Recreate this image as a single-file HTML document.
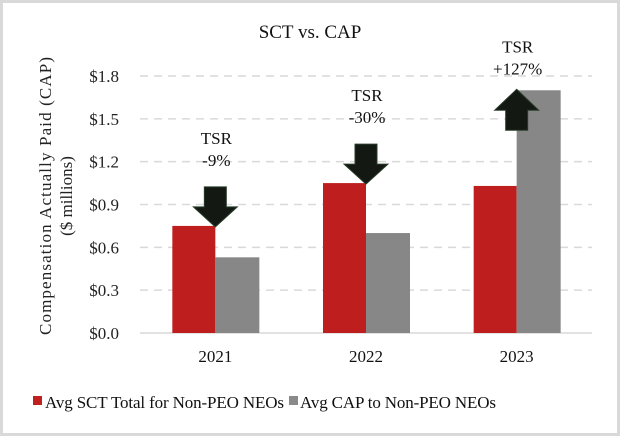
<!DOCTYPE html>
<html><head><meta charset="utf-8"><style>
html,body{margin:0;padding:0;background:#fff}
svg{display:block;font-family:"Liberation Serif","Times New Roman",serif}
</style></head><body>
<svg width="620" height="436" viewBox="0 0 620 436">
<rect x="1.5" y="1.5" width="617" height="433" fill="#fff" stroke="#d9d9d9" stroke-width="3"/>
<text x="310" y="38" text-anchor="middle" font-size="19" fill="#111">SCT vs. CAP</text>
<g id="grid"></g>
<g id="yticks"></g>
<g id="bars"></g>
<g id="xlabels"></g>
<g id="ann"></g>
<text transform="translate(51,196) rotate(-90)" text-anchor="middle" font-size="17" fill="#222" textLength="278">Compensation Actually Paid (CAP)</text>
<text transform="translate(72,196) rotate(-90)" text-anchor="middle" font-size="17" fill="#222">($ millions)</text>
<g>
<rect x="33" y="396" width="9" height="9" fill="#c0211f"/>
<text x="45" y="408" font-size="17" fill="#111" textLength="239">Avg SCT Total for Non-PEO NEOs</text>
<rect x="289" y="396" width="9" height="9" fill="#8a8a8a"/>
<text x="300" y="408" font-size="17" fill="#111" textLength="196">Avg CAP to Non-PEO NEOs</text>
</g>
</svg>
<script>
const categories = ["2021","2022","2023"];
const sctValues = [0.75, 1.05, 1.03];
const capValues = [0.53, 0.70, 1.70];
const yTicks = [0, 0.3, 0.6, 0.9, 1.2, 1.5, 1.8];
const yTickLabels = ["$0.0","$0.3","$0.6","$0.9","$1.2","$1.5","$1.8"];
const tsrLabels = ["-9%","-30%","+127%"];
const tsrDirection = ["down","down","up"];

const NS="http://www.w3.org/2000/svg";
const plotL=140, plotR=592, y0=333, yTop=76, yMax=1.8;
const y = v => y0 - (v/yMax)*(y0-yTop);
const band=(plotR-plotL)/categories.length;
const cx = i => plotL + band*(i+0.5);
const bw=43;
function mk(tag,attrs,parent){const e=document.createElementNS(NS,tag);for(const k in attrs)e.setAttribute(k,attrs[k]);parent.appendChild(e);return e;}

const grid=document.getElementById('grid'), yt=document.getElementById('yticks');
yTicks.forEach((t,i)=>{
  const l=mk('line',{x1:plotL,x2:plotR,y1:y(t),y2:y(t),stroke:'#d9d9d9','stroke-width':1.5,'stroke-dasharray':t===0?'none':'8,6'},grid);
  
  
  const tx=mk('text',{x:119,y:y(t)+6,'text-anchor':'end','font-size':17,fill:'#222'},yt);
  tx.textContent=yTickLabels[i];
  
  
});

const bars=document.getElementById('bars'), xl=document.getElementById('xlabels'), ann=document.getElementById('ann');
categories.forEach((c,i)=>{
  const r=mk('rect',{x:cx(i)-bw,y:y(sctValues[i]),width:bw,height:y0-y(sctValues[i]),fill:'#be1e1d'},bars);
  
  
  const g=mk('rect',{x:cx(i),y:y(capValues[i]),width:bw+1,height:y0-y(capValues[i]),fill:'#878787'},bars);
  
  
  const t=mk('text',{x:cx(i),y:362,'text-anchor':'middle','font-size':17,fill:'#111'},xl);
  t.textContent=c;
  
  
  const ax=cx(i);
  let pts, ty;
  if(tsrDirection[i]==='down'){
    const tip=y(sctValues[i])+1, top=tip-40, hb=tip-20;
    pts=[[ax-11,top],[ax+11,top],[ax+11,hb],[ax+22,hb],[ax,tip],[ax-22,hb],[ax-11,hb]];
    ty=top-21;
  } else {
    const tip=y(capValues[i])-1, bot=tip+41, hb=tip+21;
    pts=[[ax,tip],[ax+22,hb],[ax+11,hb],[ax+11,bot],[ax-11,bot],[ax-11,hb],[ax-22,hb]];
    ty=tip-15;
  }
  const a=mk('polygon',{points:pts.map(p=>p.join(',')).join(' '),fill:'#131813',stroke:'#2a3d2a','stroke-width':1},ann);
  
  
  const t1=mk('text',{x:ax+1,y:ty-22,'text-anchor':'middle','font-size':17,fill:'#111'},ann);
  t1.textContent='TSR';
  
  
  const t2=mk('text',{x:ax+1,y:ty,'text-anchor':'middle','font-size':17,fill:'#111'},ann);
  t2.textContent=tsrLabels[i];
  
  
});
</script>
</body></html>
